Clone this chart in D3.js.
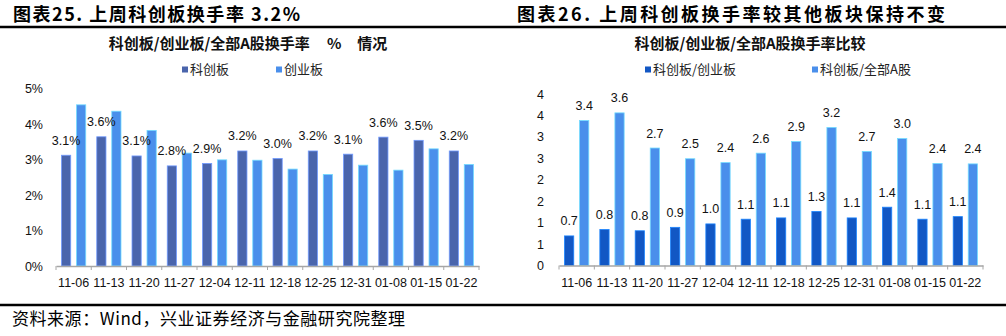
<!DOCTYPE html>
<html>
<head>
<meta charset="utf-8">
<script src="https://cdn.jsdelivr.net/npm/d3@7"></script>
<style>
  html, body { margin: 0; padding: 0; background: #fff; }
  svg { display: block; }
</style>
</head>
<body>
<svg id="chart" width="1006" height="336"></svg>
<script>
// ---------- data ----------
const dates = ["11-06","11-13","11-20","11-27","12-04","12-11","12-18","12-25","12-31","01-08","01-15","01-22"];
// left chart: turnover rate (%)
const kcbTurnover = [3.12, 3.64, 3.10, 2.82, 2.89, 3.24, 3.03, 3.24, 3.15, 3.63, 3.54, 3.24];
const cybTurnover = [4.54, 4.36, 3.82, 3.18, 2.99, 2.98, 2.73, 2.58, 2.84, 2.70, 3.30, 2.86];
// right chart: ratios
const kcbVsCyb = [0.69, 0.84, 0.81, 0.89, 0.97, 1.08, 1.11, 1.26, 1.11, 1.36, 1.08, 1.14];
const kcbVsAll = [3.38, 3.56, 2.74, 2.49, 2.40, 2.62, 2.89, 3.22, 2.66, 2.96, 2.38, 2.37];
// tick values and labels
const leftTickValues = [0, 1, 2, 3, 4, 5];
const leftTickLabels = ["0%", "1%", "2%", "3%", "4%", "5%"];
const rightTickValues = [0, 0.5, 1, 1.5, 2, 2.5, 3, 3.5, 4];
const rightTickLabels = ["0", "1", "1", "2", "2", "3", "3", "4", "4"];
const leftSeriesNames = ["科创板", "创业板"];
const rightSeriesNames = ["科创板/创业板", "科创板/全部A股"];

// ---------- styles ----------
const CJK = "'Noto Sans CJK SC', 'Noto Sans', sans-serif";
const LAT = "'Liberation Sans', Arial, sans-serif";
const FS = 12.5;
const cDarkL = "#4a65ac";
const cLight = "#4a8feb";
const cDarkR = "#1257c4";
const axisColor = "#a6a6a6";

const svg = d3.select("#chart");

// header rules
svg.append("line").attr("x1", 0).attr("x2", 1006).attr("y1", 27).attr("y2", 27)
  .attr("stroke", "#000").attr("stroke-width", 2.5);
svg.append("line").attr("x1", 0).attr("x2", 1006).attr("y1", 305).attr("y2", 305)
  .attr("stroke", "#000").attr("stroke-width", 2.5);

// headers
svg.append("text").attr("x", 13).attr("y", 21)
  .attr("font-family", CJK).attr("font-weight", "bold").attr("font-size", 18)
  .attr("textLength", 287).attr("lengthAdjust", "spacing")
  .text("图表25. 上周科创板换手率 3.2%");
svg.append("text").attr("x", 517).attr("y", 21)
  .attr("font-family", CJK).attr("font-weight", "bold").attr("font-size", 18)
  .attr("textLength", 428).attr("lengthAdjust", "spacing")
  .text("图表26. 上周科创板换手率较其他板块保持不变");
// footer
svg.append("text").attr("x", 12).attr("y", 324.5)
  .attr("font-family", CJK).attr("font-size", 17)
  .attr("textLength", 393).attr("lengthAdjust", "spacing")
  .text("资料来源：Wind，兴业证券经济与金融研究院整理");

function drawChart(opt) {
  const g = svg.append("g");
  const x0 = d3.scaleBand().domain(dates).range([opt.x0, opt.x1]).padding(0);
  const x1 = d3.scaleBand().domain(["a", "b"]).range([0, x0.bandwidth()])
    .paddingInner(1/3).paddingOuter(0.34);
  const y = d3.scaleLinear().domain(opt.yDomain).range([opt.yBase, opt.yTop]);

  // title
  const t = g.append("text").attr("x", opt.titleX).attr("y", 48.5)
    .attr("text-anchor", "middle").attr("font-family", CJK)
    .attr("font-weight", "bold").attr("font-size", 15).attr("fill", "#111");
  opt.title.forEach(p => t.append("tspan").attr("dx", p.dx || 0).text(p.text));

  // legend
  opt.legend.forEach((L, i) => {
    g.append("rect").attr("x", L.x).attr("y", 66.5).attr("width", 6).attr("height", 6)
      .attr("fill", opt.colors[i]);
    g.append("text").attr("x", L.x + 8).attr("y", 74)
      .attr("font-family", CJK).attr("font-size", 13).attr("fill", "#222")
      .text(L.name);
  });

  // y labels
  g.selectAll(".ytl").data(opt.tickValues).enter().append("text")
    .attr("x", opt.yLabelX).attr("y", d => y(d) + 4.5)
    .attr("text-anchor", "end").attr("font-family", LAT).attr("font-size", FS)
    .attr("fill", "#111")
    .text((d, i) => opt.tickLabels[i]);

  // bars
  const series = [opt.s1, opt.s2];
  series.forEach((vals, si) => {
    const key = si === 0 ? "a" : "b";
    g.selectAll(".bar" + si).data(vals).enter().append("rect")
      .attr("x", (d, i) => x0(dates[i]) + x1(key) + 0.4)
      .attr("y", d => y(d))
      .attr("width", x1.bandwidth() - 0.8)
      .attr("height", d => y(0) - y(d))
      .attr("fill", opt.colors[si])
      .attr("stroke", d3.color(opt.colors[si]).brighter(1.2))
      .attr("stroke-width", 0.8);
  });

  // data labels
  opt.labelSeries.forEach(si => {
    const key = si === 0 ? "a" : "b";
    g.selectAll(".lbl" + si).data(series[si]).enter().append("text")
      .attr("x", (d, i) => x0(dates[i]) + x1(key) + x1.bandwidth() / 2)
      .attr("y", d => y(d) - 10.5)
      .attr("text-anchor", "middle").attr("font-family", LAT).attr("font-size", FS)
      .attr("fill", "#111")
      .text(d => d.toFixed(1) + opt.suffix);
  });

  // x axis
  const axis = d3.axisBottom(x0).tickSize(0).tickPadding(0);
  const ax = g.append("g").attr("transform", `translate(0,${y(0)})`).call(axis);
  ax.select(".domain").attr("stroke", axisColor).attr("stroke-width", 1.5);
  ax.selectAll(".tick text").attr("font-family", LAT).attr("font-size", FS)
    .attr("fill", "#111").attr("y", 0).attr("dy", 21);
  // tick marks at band boundaries
  const bounds = dates.map(d => x0(d)).concat([opt.x1]);
  g.selectAll(".btick").data(bounds).enter().append("line")
    .attr("x1", d => d).attr("x2", d => d)
    .attr("y1", y(0)).attr("y2", y(0) + 4)
    .attr("stroke", axisColor).attr("stroke-width", 1);
}

drawChart({
  x0: 56, x1: 479, yBase: 266, yTop: 88.5, yDomain: [0, 5],
  tickValues: leftTickValues, tickLabels: leftTickLabels, yLabelX: 43,
  s1: kcbTurnover, s2: cybTurnover, colors: [cDarkL, cLight],
  labelSeries: [0], suffix: "%",
  titleX: 248,
  title: [{text: "科创板/创业板/全部A股换手率"}, {text: "%", dx: 17}, {text: "情况", dx: 16}],
  legend: [{x: 182, name: leftSeriesNames[0]}, {x: 276, name: leftSeriesNames[1]}]
});

drawChart({
  x0: 559, x1: 983, yBase: 265.5, yTop: 94, yDomain: [0, 4],
  tickValues: rightTickValues, tickLabels: rightTickLabels, yLabelX: 544,
  s1: kcbVsCyb, s2: kcbVsAll, colors: [cDarkR, cLight],
  labelSeries: [0, 1], suffix: "",
  titleX: 750,
  title: [{text: "科创板/创业板/全部A股换手率比较"}],
  legend: [{x: 645, name: rightSeriesNames[0]}, {x: 812, name: rightSeriesNames[1]}]
});
</script>
</body>
</html>
